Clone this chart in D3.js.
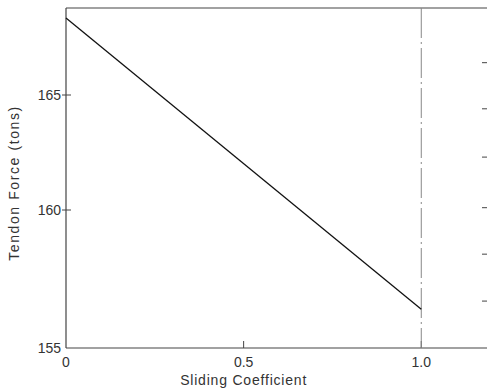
<html>
<head>
<script src="https://d3js.org/d3.v7.min.js"></script>
<style>
  body { margin: 0; background: #fff; }
  text { font-family: "Liberation Sans", Arial, sans-serif; fill: #333; }
</style>
</head>
<body>
<div id="chart"></div>
<script>
// data
const coef = [0, 1.0];
const force = [168.1, 156.4];
const xTicks = [0, 0.5, 1.0];
const xTickLabels = ["0", "0.5", "1.0"];
const yTicks = [155, 160, 165];
const rightTicks = [156.7, 158.4, 160.1, 162.3, 164.4, 166.3];
const markerX = 1.0;

const W = 490, H = 391;

const svg = d3.select("#chart").append("svg")
  .attr("width", W).attr("height", H);

const x = d3.scaleLinear().domain([0, 1.185]).range([66, 487]);
// the scanned axis is not quite even, so map each labelled tick where it sits
const y = d3.scaleLinear().domain([155, 160, 165, 168.5]).range([348, 210, 95, 8]);

const axisColor = "#444";

// frame: left, bottom, top
svg.append("line").attr("x1", x(0)).attr("x2", x(0)).attr("y1", y(168.5)).attr("y2", y(155))
  .attr("stroke", axisColor).attr("stroke-width", 1.2);
svg.append("line").attr("x1", x(0)).attr("x2", x(1.185)).attr("y1", y(155)).attr("y2", y(155))
  .attr("stroke", axisColor).attr("stroke-width", 1.2);
svg.append("line").attr("x1", x(0)).attr("x2", x(1.185)).attr("y1", y(168.5)).attr("y2", y(168.5))
  .attr("stroke", axisColor).attr("stroke-width", 1.2);

// y ticks + labels
svg.append("g").selectAll("line").data(yTicks.slice(1)).enter().append("line")
  .attr("x1", x(0) - 4).attr("x2", x(0) + 5)
  .attr("y1", d => y(d)).attr("y2", d => y(d))
  .attr("stroke", axisColor);
svg.append("g").selectAll("text").data(yTicks).enter().append("text")
  .attr("x", x(0) - 5).attr("y", d => y(d) + 5)
  .attr("text-anchor", "end").style("font-size", "14px")
  .text(d => d);

// x ticks + labels
svg.append("g").selectAll("line").data(xTicks.slice(1)).enter().append("line")
  .attr("x1", d => x(d)).attr("x2", d => x(d))
  .attr("y1", y(155)).attr("y2", y(155) - 7)
  .attr("stroke", axisColor);
svg.append("g").selectAll("text").data(xTicks).enter().append("text")
  .attr("x", d => x(d)).attr("y", y(155) + 19)
  .attr("text-anchor", "middle").style("font-size", "14px")
  .text((d, i) => xTickLabels[i]);

// right side unlabeled ticks
svg.append("g").selectAll("line").data(rightTicks).enter().append("line")
  .attr("x1", x(1.185) - 5).attr("x2", x(1.185))
  .attr("y1", d => y(d)).attr("y2", d => y(d))
  .attr("stroke", axisColor);

// vertical dash-dot marker at 1.0
svg.append("line")
  .attr("x1", x(markerX)).attr("x2", x(markerX))
  .attr("y1", y(168.5)).attr("y2", y(155))
  .attr("stroke", "#888").attr("stroke-width", 1)
  .attr("stroke-dasharray", "30,4,2,4");

// data line
svg.append("path")
  .datum(coef.map((c, i) => [c, force[i]]))
  .attr("fill", "none").attr("stroke", "#111").attr("stroke-width", 1.3)
  .attr("d", d3.line().x(d => x(d[0])).y(d => y(d[1])));

// axis titles
svg.append("text")
  .attr("x", x(0.5)).attr("y", 385)
  .attr("text-anchor", "middle").style("font-size", "14px").style("letter-spacing", "0.8px")
  .text("Sliding Coefficient");
svg.append("text")
  .attr("transform", "translate(19," + 183 + ") rotate(-90)")
  .attr("text-anchor", "middle").style("font-size", "14px").style("letter-spacing", "1.6px")
  .text("Tendon Force  (tons)");
</script>
</body>
</html>
